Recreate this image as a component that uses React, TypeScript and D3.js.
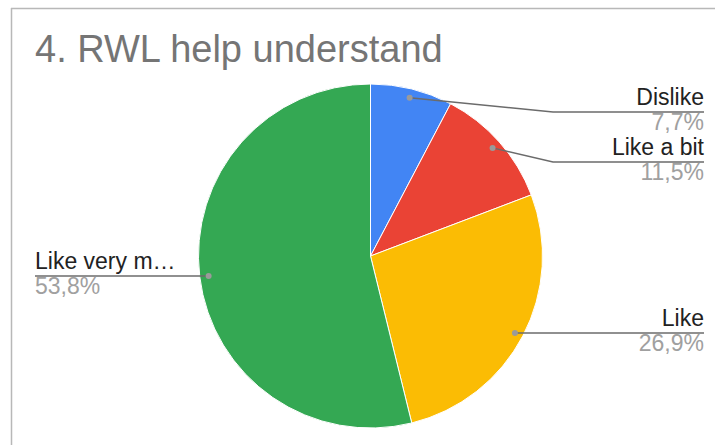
import React from "react";
import * as d3 from "d3";

const categories = ["Dislike", "Like a bit", "Like", "Like very much"];
const values = [7.7, 11.5, 26.9, 53.8];
const percentLabels = ["7,7%", "11,5%", "26,9%", "53,8%"];
const displayLabels = ["Dislike", "Like a bit", "Like", "Like very m…"];
const colors = ["#4285f4", "#ea4335", "#fbbc04", "#34a853"];
const title = "4. RWL help understand";

const W = 715;
const H = 445;
const cx = 370.5;
const cy = 256;
const R = 172;

const labelLayout: { lineY: number; elbowX: number | null; side: "right" | "left" }[] = [
  { lineY: 112, elbowX: 553, side: "right" },
  { lineY: 162, elbowX: 553, side: "right" },
  { lineY: 333, elbowX: null, side: "right" },
  { lineY: 276, elbowX: null, side: "left" },
];

export default function App() {
  const pie = d3
    .pie<number>()
    .sort(null)
    .value((d) => d);
  const arcs = pie(values);
  const arcGen = d3.arc<d3.PieArcDatum<number>>().innerRadius(0).outerRadius(R);
  const font = "'Liberation Sans', Arial, sans-serif";

  return (
    <svg
      width={W}
      height={H}
      style={{ position: "absolute", left: 0, top: 0, background: "#fff" }}
    >
      <rect x={0} y={0} width={W} height={H} fill="#fff" />
      <line x1={11} y1={8.5} x2={W} y2={8.5} stroke="#b8b8b8" strokeWidth={1.5} />
      <line x1={11.5} y1={8} x2={11.5} y2={H} stroke="#b8b8b8" strokeWidth={1.5} />
      <text x={35} y={62} fontFamily={font} fontSize={38} fill="#757575">
        {title}
      </text>
      <g transform={`translate(${cx},${cy})`}>
        {arcs.map((a, i) => (
          <path key={categories[i]} d={arcGen(a) || ""} fill={colors[i]} stroke="#fff" strokeWidth={1} />
        ))}
      </g>
      {arcs.map((a, i) => {
        const mid = (a.startAngle + a.endAngle) / 2;
        const r = R * 0.948;
        const dx = cx + r * Math.sin(mid);
        const dy = cy - r * Math.cos(mid);
        const L = labelLayout[i];
        const endX = L.side === "right" ? 704 : 35;
        const pts: [number, number][] = [[dx, dy]];
        if (L.elbowX !== null) pts.push([L.elbowX, L.lineY]);
        else pts[0] = [dx, L.lineY];
        pts.push([endX, L.lineY]);
        const line = d3.line()(pts) || "";
        const anchor = L.side === "right" ? "end" : "start";
        return (
          <g key={"lbl" + i}>
            <path d={line} fill="none" stroke="#6b6b6b" strokeWidth={1.4} />
            <circle cx={pts[0][0]} cy={pts[0][1]} r={3} fill="#9a9a9a" />
            <text x={endX} y={L.lineY - 7} textAnchor={anchor} fontFamily={font} fontSize={23} fill="#222">
              {displayLabels[i]}
            </text>
            <text x={endX} y={L.lineY + 18} textAnchor={anchor} fontFamily={font} fontSize={23} fill="#a0a0a0">
              {percentLabels[i]}
            </text>
          </g>
        );
      })}
    </svg>
  );
}
